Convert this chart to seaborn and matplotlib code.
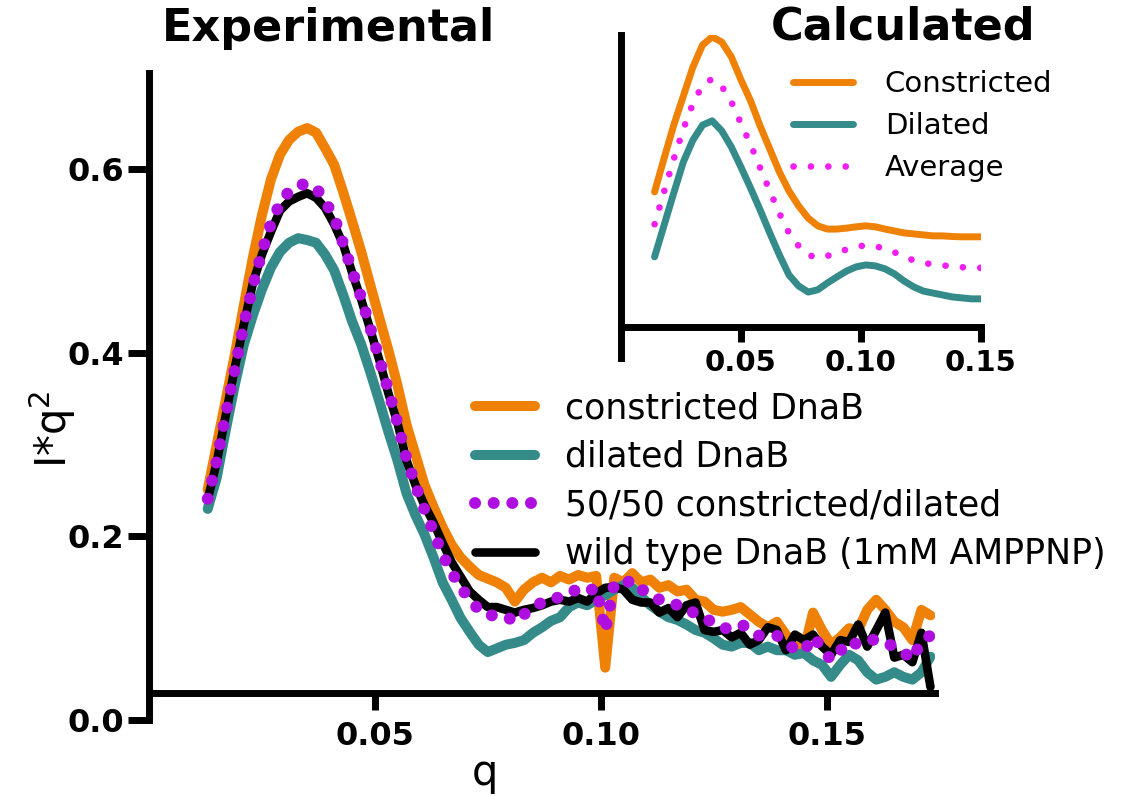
import numpy as np
import matplotlib
matplotlib.use('Agg')
import matplotlib.pyplot as plt
import seaborn as sns
from matplotlib.ticker import FormatStrFormatter

# Experimental curves (main panel)
q = [0.013, 0.015, 0.017, 0.019, 0.021, 0.023, 0.025, 0.027, 0.029, 0.031,
     0.033, 0.035, 0.037, 0.039, 0.041, 0.043, 0.045, 0.047, 0.049, 0.051,
     0.053, 0.055, 0.057, 0.059, 0.061, 0.063, 0.065, 0.067, 0.069, 0.071,
     0.073, 0.075, 0.077, 0.079, 0.081, 0.083, 0.085, 0.087, 0.089, 0.091,
     0.093, 0.095, 0.097, 0.099, 0.101, 0.103, 0.105, 0.107, 0.109, 0.111,
     0.113, 0.115, 0.117, 0.119, 0.121, 0.123, 0.125, 0.127, 0.129, 0.131,
     0.133, 0.135, 0.137, 0.139, 0.141, 0.143, 0.145, 0.147, 0.149, 0.151,
     0.153, 0.155, 0.157, 0.159, 0.161, 0.163, 0.165, 0.167, 0.169, 0.171,
     0.173]
constricted = [0.251, 0.300, 0.349, 0.398, 0.452, 0.504, 0.550, 0.589, 0.616, 0.632,
               0.641, 0.645, 0.640, 0.623, 0.605, 0.575, 0.543, 0.510, 0.474, 0.438,
               0.403, 0.365, 0.322, 0.289, 0.256, 0.232, 0.210, 0.191, 0.177, 0.167,
               0.158, 0.154, 0.150, 0.144, 0.129, 0.142, 0.150, 0.155, 0.150, 0.157,
               0.153, 0.158, 0.155, 0.157, 0.057, 0.155, 0.150, 0.160, 0.150, 0.153,
               0.144, 0.147, 0.140, 0.142, 0.131, 0.129, 0.120, 0.118, 0.120, 0.123,
               0.115, 0.107, 0.101, 0.107, 0.093, 0.082, 0.076, 0.117, 0.098, 0.082,
               0.090, 0.100, 0.098, 0.120, 0.131, 0.120, 0.107, 0.101, 0.087, 0.120,
               0.114]
dilated = [0.230, 0.264, 0.316, 0.365, 0.409, 0.441, 0.469, 0.493, 0.510, 0.520,
           0.525, 0.523, 0.520, 0.507, 0.490, 0.463, 0.434, 0.409, 0.379, 0.347,
           0.314, 0.283, 0.247, 0.223, 0.202, 0.177, 0.150, 0.131, 0.111, 0.096,
           0.082, 0.074, 0.078, 0.082, 0.084, 0.087, 0.095, 0.101, 0.108, 0.112,
           0.123, 0.128, 0.125, 0.131, 0.136, 0.142, 0.147, 0.144, 0.134, 0.125,
           0.118, 0.112, 0.109, 0.104, 0.098, 0.095, 0.089, 0.082, 0.080, 0.084,
           0.084, 0.076, 0.080, 0.076, 0.076, 0.071, 0.073, 0.065, 0.060, 0.047,
           0.060, 0.071, 0.065, 0.052, 0.044, 0.047, 0.052, 0.047, 0.044, 0.052,
           0.069]
mix_50_50 = [0.241, 0.282, 0.333, 0.382, 0.431, 0.473, 0.510, 0.541, 0.563, 0.576,
             0.583, 0.584, 0.580, 0.565, 0.548, 0.519, 0.489, 0.460, 0.427, 0.393,
             0.359, 0.324, 0.285, 0.256, 0.229, 0.205, 0.180, 0.161, 0.144, 0.132,
             0.120, 0.114, 0.114, 0.113, 0.107, 0.115, 0.123, 0.128, 0.129, 0.135,
             0.138, 0.143, 0.140, 0.144, 0.097, 0.149, 0.149, 0.152, 0.142, 0.139,
             0.131, 0.130, 0.125, 0.123, 0.115, 0.112, 0.105, 0.100, 0.100, 0.104,
             0.100, 0.092, 0.091, 0.092, 0.085, 0.077, 0.075, 0.091, 0.079, 0.065,
             0.075, 0.086, 0.082, 0.086, 0.088, 0.084, 0.080, 0.074, 0.066, 0.086,
             0.092]
wild_type = [0.240, 0.281, 0.332, 0.384, 0.431, 0.476, 0.507, 0.532, 0.555, 0.565,
             0.570, 0.574, 0.569, 0.558, 0.540, 0.518, 0.487, 0.458, 0.425, 0.392,
             0.356, 0.324, 0.283, 0.256, 0.234, 0.215, 0.193, 0.172, 0.156, 0.140,
             0.131, 0.123, 0.123, 0.120, 0.117, 0.120, 0.122, 0.125, 0.129, 0.131,
             0.129, 0.133, 0.129, 0.138, 0.144, 0.145, 0.142, 0.131, 0.128, 0.128,
             0.117, 0.122, 0.112, 0.125, 0.128, 0.098, 0.096, 0.098, 0.090, 0.095,
             0.082, 0.087, 0.101, 0.098, 0.076, 0.093, 0.087, 0.093, 0.080, 0.071,
             0.087, 0.085, 0.104, 0.080, 0.098, 0.117, 0.068, 0.071, 0.063, 0.095,
             0.036]

# Calculated curves (inset, arbitrary units)
q_calc = [0.014, 0.018, 0.022, 0.026, 0.030, 0.034, 0.038, 0.042, 0.046, 0.050,
          0.054, 0.058, 0.062, 0.066, 0.070, 0.074, 0.078, 0.082, 0.086, 0.090,
          0.094, 0.098, 0.102, 0.106, 0.110, 0.114, 0.118, 0.122, 0.126, 0.130,
          0.134, 0.138, 0.142, 0.146, 0.150]
calc_constricted = [0.514, 0.619, 0.721, 0.811, 0.901, 0.969, 0.994, 0.978, 0.932, 0.861,
                    0.796, 0.718, 0.647, 0.576, 0.517, 0.471, 0.433, 0.409, 0.399, 0.399,
                    0.402, 0.406, 0.409, 0.406, 0.399, 0.393, 0.387, 0.384, 0.381, 0.378,
                    0.378, 0.376, 0.375, 0.375, 0.375]
calc_dilated = [0.313, 0.412, 0.511, 0.607, 0.675, 0.721, 0.734, 0.703, 0.653, 0.591,
                0.526, 0.458, 0.387, 0.319, 0.257, 0.223, 0.204, 0.211, 0.232, 0.251,
                0.269, 0.282, 0.288, 0.285, 0.276, 0.260, 0.238, 0.220, 0.207, 0.201,
                0.195, 0.189, 0.186, 0.183, 0.183]
calc_average = [0.414, 0.516, 0.616, 0.709, 0.788, 0.845, 0.864, 0.841, 0.793, 0.726,
                0.661, 0.588, 0.517, 0.448, 0.387, 0.347, 0.319, 0.310, 0.316, 0.325,
                0.336, 0.344, 0.349, 0.346, 0.338, 0.327, 0.313, 0.302, 0.294, 0.290,
                0.287, 0.283, 0.281, 0.279, 0.279]

ORANGE = '#EF8106'
TEAL = '#348B89'
PURPLE = '#AE0FE0'
MAGENTA = '#F01EF0'

sns.set_style('ticks')
plt.rcParams['font.family'] = ['DejaVu Sans']
plt.rcParams['text.color'] = 'black'
plt.rcParams['axes.labelcolor'] = 'black'
plt.rcParams['xtick.color'] = 'black'
plt.rcParams['ytick.color'] = 'black'

fig = plt.figure(figsize=(11.27, 7.96), dpi=100)

# ---- main panel ----
ax = fig.add_axes([0.1322, 0.0955, 0.6974, 0.8128])
sns.lineplot(x=q, y=constricted, ax=ax, color=ORANGE, lw=7.2, label='constricted DnaB', zorder=2)
sns.lineplot(x=q, y=dilated, ax=ax, color=TEAL, lw=7.2, label='dilated DnaB', zorder=2.1)
sns.lineplot(x=q, y=mix_50_50, ax=ax, color=PURPLE, lw=8.6, label='50/50 constricted/dilated',
             linestyle=(0, (0.01, 1.55)), dash_capstyle='round', zorder=4)
sns.lineplot(x=q, y=wild_type, ax=ax, color='black', lw=6.2, label='wild type DnaB (1mM AMPPNP)', zorder=3)

ax.set_xlim(0, 0.174)
ax.set_ylim(0, 0.705)
ax.set_xticks([0.05, 0.10, 0.15])
ax.set_yticks([0.0, 0.2, 0.4, 0.6])
ax.xaxis.set_major_formatter(FormatStrFormatter('%.2f'))
ax.yaxis.set_major_formatter(FormatStrFormatter('%.1f'))
for side in ['top', 'right']:
    ax.spines[side].set_visible(False)
for side in ['left', 'bottom']:
    ax.spines[side].set_linewidth(5)
    ax.spines[side].set_color('black')
ax.spines['bottom'].set_position(('data', 0.029))
ax.tick_params(axis='y', left=True, direction='out', length=15, width=5, pad=3,
               labelsize=23, color='black', labelcolor='black')
ax.tick_params(axis='x', bottom=True, direction='out', length=12, width=5, pad=8,
               labelsize=23, color='black', labelcolor='black')
for lab in ax.get_xticklabels() + ax.get_yticklabels():
    lab.set_fontweight('heavy')

ax.set_xlabel('q', fontsize=30)
ax.xaxis.set_label_coords(0.427, -0.050)
ax.set_ylabel('I*q$^2$', fontsize=30)
ax.yaxis.set_label_coords(-0.090, 0.45)

ax.legend(loc='upper left', bbox_to_anchor=(0.4215, 0.5085), bbox_transform=fig.transFigure,
          frameon=False, fontsize=25, handlelength=1.73, handletextpad=0.86,
          labelspacing=0.42, borderaxespad=0, borderpad=0)

fig.text(328 / 1127, 1 - 28 / 796, 'Experimental', ha='center', va='center',
         fontsize=32, fontweight='heavy')

# ---- inset ----
ax2 = fig.add_axes([0.551, 0.5503, 0.3194, 0.4058])
sns.lineplot(x=q_calc, y=calc_constricted, ax=ax2, color=ORANGE, lw=5, label='Constricted')
sns.lineplot(x=q_calc, y=calc_dilated, ax=ax2, color=TEAL, lw=5, label='Dilated')
sns.lineplot(x=q_calc, y=calc_average, ax=ax2, color=MAGENTA, lw=4.8,
             linestyle=(0, (0.01, 2.6)), dash_capstyle='round', label='Average')
ax2.set_xlim(0, 0.15)
ax2.set_ylim(0, 1)
ax2.set_xticks([0.05, 0.10, 0.15])
ax2.set_yticks([])
ax2.xaxis.set_major_formatter(FormatStrFormatter('%.2f'))
for side in ['top', 'right']:
    ax2.spines[side].set_visible(False)
for side in ['left', 'bottom']:
    ax2.spines[side].set_linewidth(5)
    ax2.spines[side].set_color('black')
ax2.spines['bottom'].set_position(('data', 0.096))
ax2.tick_params(axis='x', bottom=True, direction='out', length=11, width=5, pad=5,
                labelsize=21, color='black', labelcolor='black')
for lab in ax2.get_xticklabels():
    lab.set_fontweight('heavy')
ax2.patch.set_alpha(0)
ax2.legend(loc='upper left', bbox_to_anchor=(0.7036, 0.9120), bbox_transform=fig.transFigure,
           frameon=False, fontsize=21, handlelength=2.05, handletextpad=1.1,
           labelspacing=0.48, borderaxespad=0, borderpad=0)

fig.text(903 / 1127, 1 - 27 / 796, 'Calculated', ha='center', va='center',
         fontsize=32, fontweight='heavy')

fig.savefig('out.png', dpi=100)
